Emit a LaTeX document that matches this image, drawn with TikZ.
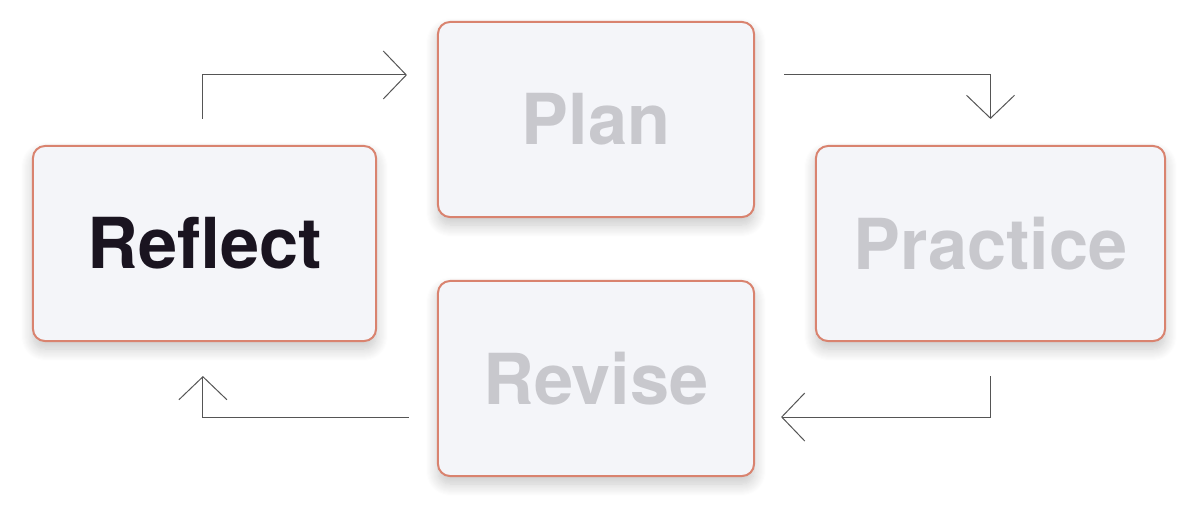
\documentclass[tikz,border=0pt]{standalone}
\usepackage{fontspec}
\setmainfont{TeX Gyre Heros}
\usetikzlibrary{arrows.meta, shadows.blur}
\definecolor{boxfill}{HTML}{F4F5F9}
\definecolor{boxline}{HTML}{D9836F}
\definecolor{activetext}{HTML}{1A1420}
\definecolor{idletext}{HTML}{C8C8CD}
\definecolor{flowline}{HTML}{555555}
\begin{document}
\begin{tikzpicture}[x=0.025cm, y=-0.025cm,
  box/.style={draw=boxline, line width=0.05cm, fill=boxfill, rounded corners=0.3cm,
    minimum height=4.875cm, inner sep=0pt, text=idletext,
    font=\fontsize{50}{60}\selectfont\bfseries,
    blur shadow={shadow xshift=0pt, shadow yshift=-0.2cm, shadow blur radius=0.3cm,
      shadow opacity=22, shadow blur steps=12}},
  flow/.style={draw=flowline, line width=0.025cm,
    -{Straight Barb[length=0.575cm, width=1.2cm, line width=0.025cm]}}]
  \useasboundingbox (0,0) rectangle (1200,520);

  % Cycle stages
  \node[box, minimum width=8.575cm, text=activetext] (reflect) at (204.5,243.5) {Reflect};
  \node[box, minimum width=7.9cm] (plan) at (596,119.5) {Plan};
  \node[box, minimum width=8.725cm] (practice) at (990.5,243.5) {Practice};
  \node[box, minimum width=7.9cm] (revise) at (596,378.5) {Revise};

  % Connectors
  \draw[flow] ([xshift=-0.06cm, yshift=0.65cm]reflect.north) |- ([xshift=-0.75cm, yshift=1.1125cm]plan.west);
  \draw[flow] ([xshift=0.725cm, yshift=1.1125cm]plan.east) -| ([yshift=0.65cm]practice.north);
  \draw[flow] ([yshift=-0.85cm]practice.south) |- ([xshift=0.65cm, yshift=-0.9625cm]revise.east);
  \draw[flow] ([xshift=-0.7cm, yshift=-0.9625cm]revise.west) -| ([xshift=-0.04cm, yshift=-0.85cm]reflect.south);
\end{tikzpicture}
\end{document}
